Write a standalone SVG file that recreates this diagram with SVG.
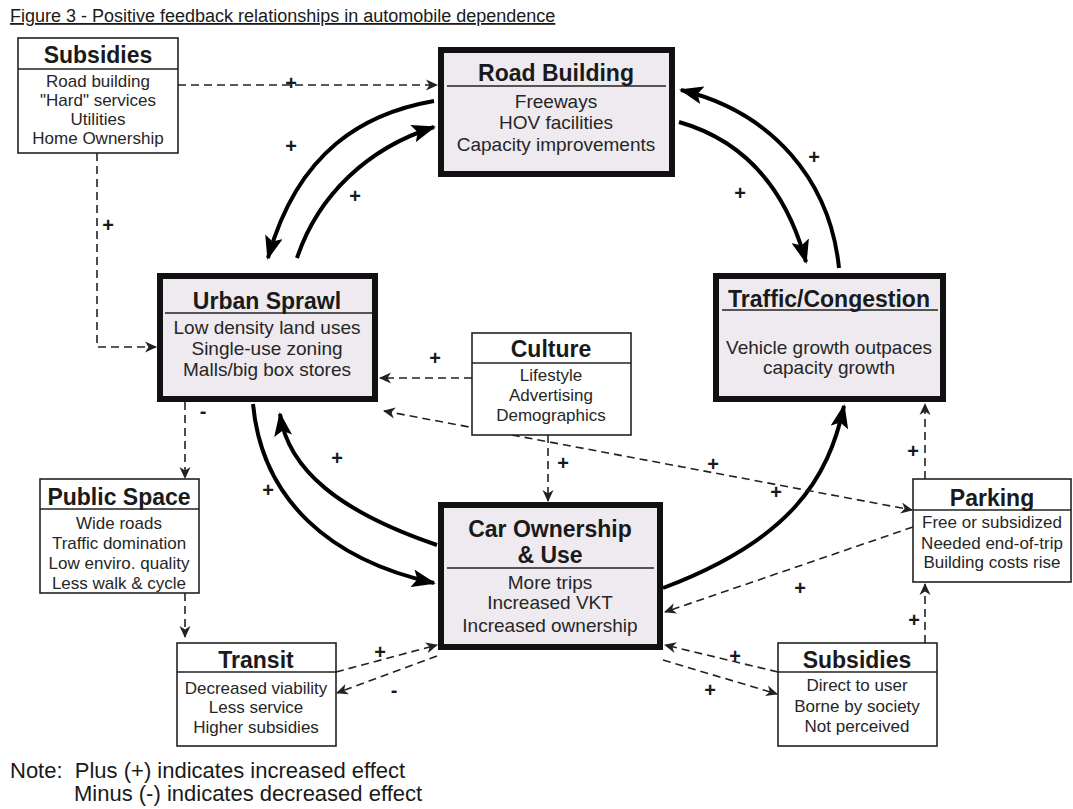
<svg xmlns="http://www.w3.org/2000/svg" width="1073" height="809" viewBox="0 0 1073 809">
  <defs>
    <style>
      text { font-family: "Liberation Sans", Arial, sans-serif; fill: #1a1a1a; }
      .title { font-size: 18px; text-decoration: underline; }
      .note { font-size: 22px; }
      .hd { font-size: 23px; font-weight: bold; text-anchor: middle; }
      .it { font-size: 17px; text-anchor: middle; fill: #262626; }
      .itb { font-size: 19px; text-anchor: middle; fill: #262626; }
      .sign { font-size: 20px; font-weight: bold; text-anchor: middle; }
      .small { fill: #ffffff; stroke: #222; stroke-width: 1.6; }
      .big { fill: #eeeaef; stroke: #111; stroke-width: 6; }
      .rule { stroke: #222; stroke-width: 1.5; }
      .dash { fill: none; stroke: #222; stroke-width: 1.6; stroke-dasharray: 8 5; }
      .solid { fill: none; stroke: #000; stroke-width: 4; }
    </style>
    <marker id="dh" viewBox="0 0 12 12" refX="11" refY="6" markerWidth="12" markerHeight="12" markerUnits="userSpaceOnUse" orient="auto-start-reverse">
      <path d="M0,0.5 L12,6 L0,11.5 L3.5,6 z" fill="#222"/>
    </marker>
    <marker id="sh" viewBox="0 0 24 18" refX="22" refY="9" markerWidth="24" markerHeight="18" markerUnits="userSpaceOnUse" orient="auto">
      <path d="M0,0 L24,9 L0,18 L5,9 z" fill="#000"/>
    </marker>
  </defs>

  <text class="title" x="10" y="22">Figure 3 - Positive feedback relationships in automobile dependence</text>

  <!-- connectors -->
  <g id="connectors">
    <!-- thick feedback loops -->
    <path class="solid" marker-end="url(#sh)" d="M434 101 C365 113 298 150 268 258"/>
    <path class="solid" marker-end="url(#sh)" d="M297 258 C318 195 368 148 434 127"/>
    <path class="solid" marker-end="url(#sh)" d="M679 122 C742 140 785 185 806 262"/>
    <path class="solid" marker-end="url(#sh)" d="M839 268 C830 180 772 112 681 90"/>
    <path class="solid" marker-end="url(#sh)" d="M253 404 C262 500 330 560 434 583"/>
    <path class="solid" marker-end="url(#sh)" d="M437 545 C340 512 288 470 280 414"/>
    <path class="solid" marker-end="url(#sh)" d="M663 588 C790 540 828 480 844 406"/>

    <!-- dashed influences -->
    <path class="dash" marker-end="url(#dh)" d="M178 85 H437"/>
    <path class="dash" marker-end="url(#dh)" d="M97 153 V347 H156"/>
    <path class="dash" marker-end="url(#dh)" d="M472 378 H380"/>
    <path class="dash" marker-end="url(#dh)" d="M548 435 V501"/>
    <path class="dash" marker-start="url(#dh)" marker-end="url(#dh)" d="M384 411 L912 510"/>
    <path class="dash" marker-end="url(#dh)" d="M913 527 L665 612"/>
    <path class="dash" marker-end="url(#dh)" d="M925 479 V404"/>
    <path class="dash" marker-end="url(#dh)" d="M925 643 V584"/>
    <path class="dash" marker-end="url(#dh)" d="M778 672 L665 645"/>
    <path class="dash" marker-end="url(#dh)" d="M663 660 L777 694"/>
    <path class="dash" marker-end="url(#dh)" d="M336 672 L437 645"/>
    <path class="dash" marker-end="url(#dh)" d="M437 656 L337 693"/>
    <path class="dash" marker-end="url(#dh)" d="M185 402 V478"/>
    <path class="dash" marker-end="url(#dh)" d="M185 593 V637"/>

    <!-- signs -->
    <text class="sign" x="291" y="90">+</text>
    <text class="sign" x="108" y="232">+</text>
    <text class="sign" x="291" y="153">+</text>
    <text class="sign" x="355" y="203">+</text>
    <text class="sign" x="740" y="200">+</text>
    <text class="sign" x="814" y="164">+</text>
    <text class="sign" x="435" y="365">+</text>
    <text class="sign" x="563" y="470">+</text>
    <text class="sign" x="713" y="471">+</text>
    <text class="sign" x="268" y="497">+</text>
    <text class="sign" x="337" y="465">+</text>
    <text class="sign" x="776" y="499">+</text>
    <text class="sign" x="913" y="458">+</text>
    <text class="sign" x="800" y="595">+</text>
    <text class="sign" x="914" y="627">+</text>
    <text class="sign" x="735" y="663">+</text>
    <text class="sign" x="710" y="697">+</text>
    <text class="sign" x="380" y="659">+</text>
    <text class="sign" x="394" y="697">-</text>
    <text class="sign" x="203" y="418">-</text>
    <text class="sign" x="202" y="653">-</text>
  </g>

  <g id="subsidies-top">
    <rect class="small" x="18" y="38" width="160" height="115"/>
    <line class="rule" x1="18" y1="69" x2="178" y2="69"/>
    <text class="hd" x="98" y="63">Subsidies</text>
    <text class="it" x="98" y="87">Road building</text>
    <text class="it" x="98" y="106">"Hard" services</text>
    <text class="it" x="98" y="125">Utilities</text>
    <text class="it" x="98" y="144">Home Ownership</text>
  </g>

  <g id="road-building">
    <rect class="big" x="441" y="50" width="231" height="124"/>
    <line class="rule" x1="447" y1="86" x2="666" y2="86"/>
    <text class="hd" x="556" y="81">Road Building</text>
    <text class="itb" x="556" y="108">Freeways</text>
    <text class="itb" x="556" y="129">HOV facilities</text>
    <text class="itb" x="556" y="151">Capacity improvements</text>
  </g>

  <g id="urban-sprawl">
    <rect class="big" x="160" y="276" width="215" height="123"/>
    <line class="rule" x1="165" y1="313" x2="372" y2="313"/>
    <text class="hd" x="267" y="309">Urban Sprawl</text>
    <text class="itb" x="267" y="334">Low density land uses</text>
    <text class="itb" x="267" y="355">Single-use zoning</text>
    <text class="itb" x="267" y="376">Malls/big box stores</text>
  </g>

  <g id="traffic-congestion">
    <rect class="big" x="716" y="276" width="227" height="123"/>
    <line class="rule" x1="722" y1="310" x2="938" y2="310"/>
    <text class="hd" x="829" y="307">Traffic/Congestion</text>
    <text class="itb" x="829" y="354">Vehicle growth outpaces</text>
    <text class="itb" x="829" y="374">capacity growth</text>
  </g>

  <g id="culture">
    <rect class="small" x="472" y="333" width="159" height="102"/>
    <line class="rule" x1="472" y1="363" x2="631" y2="363"/>
    <text class="hd" x="551" y="357">Culture</text>
    <text class="it" x="551" y="381">Lifestyle</text>
    <text class="it" x="551" y="401">Advertising</text>
    <text class="it" x="551" y="421">Demographics</text>
  </g>

  <g id="car-ownership">
    <rect class="big" x="441" y="505" width="219" height="142"/>
    <line class="rule" x1="447" y1="568" x2="654" y2="568"/>
    <text class="hd" x="550" y="537">Car Ownership</text>
    <text class="hd" x="550" y="563">&amp; Use</text>
    <text class="itb" x="550" y="589">More trips</text>
    <text class="itb" x="550" y="609">Increased VKT</text>
    <text class="itb" x="550" y="632">Increased ownership</text>
  </g>

  <g id="public-space">
    <rect class="small" x="40" y="479" width="159" height="114"/>
    <line class="rule" x1="40" y1="509" x2="199" y2="509"/>
    <text class="hd" x="119" y="505">Public Space</text>
    <text class="it" x="119" y="529">Wide roads</text>
    <text class="it" x="119" y="549">Traffic domination</text>
    <text class="it" x="119" y="569">Low enviro. quality</text>
    <text class="it" x="119" y="589">Less walk &amp; cycle</text>
  </g>

  <g id="transit">
    <rect class="small" x="177" y="643" width="159" height="103"/>
    <line class="rule" x1="177" y1="672" x2="336" y2="672"/>
    <text class="hd" x="256" y="668">Transit</text>
    <text class="it" x="256" y="694">Decreased viability</text>
    <text class="it" x="256" y="713">Less service</text>
    <text class="it" x="256" y="733">Higher subsidies</text>
  </g>

  <g id="subsidies-user">
    <rect class="small" x="778" y="643" width="159" height="103"/>
    <line class="rule" x1="778" y1="672" x2="937" y2="672"/>
    <text class="hd" x="857" y="668">Subsidies</text>
    <text class="it" x="857" y="691">Direct to user</text>
    <text class="it" x="857" y="712">Borne by society</text>
    <text class="it" x="857" y="732">Not perceived</text>
  </g>

  <g id="parking">
    <rect class="small" x="913" y="479" width="158" height="103"/>
    <line class="rule" x1="913" y1="510" x2="1071" y2="510"/>
    <text class="hd" x="992" y="506">Parking</text>
    <text class="it" x="992" y="528">Free or subsidized</text>
    <text class="it" x="992" y="549">Needed end-of-trip</text>
    <text class="it" x="992" y="568">Building costs rise</text>
  </g>

  <g id="note">
    <text class="note" x="10" y="778" xml:space="preserve">Note:  Plus (+) indicates increased effect</text>
    <text class="note" x="74" y="801">Minus (-) indicates decreased effect</text>
  </g>
</svg>
